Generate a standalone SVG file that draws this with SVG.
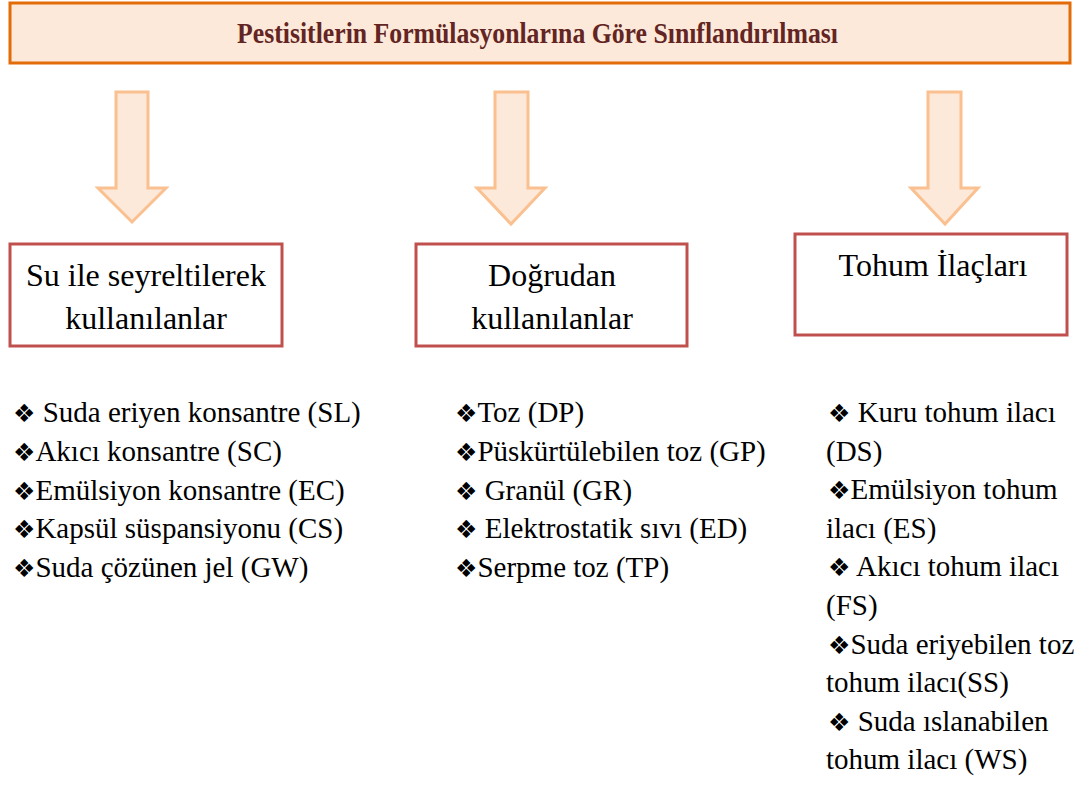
<svg xmlns="http://www.w3.org/2000/svg" width="1074" height="788" viewBox="0 0 1074 788">
<style>
.title{font-family:"Liberation Serif","Times New Roman",serif;font-weight:bold;font-size:29px;fill:#632523}
.arrow{fill:#FDE9D9;stroke:#FAC090;stroke-width:3;stroke-linejoin:miter}
.box{fill:#FFFFFF;stroke:#C0504D;stroke-width:3}
.head{font-family:"Liberation Serif","Times New Roman",serif;font-size:32px;fill:#000;text-anchor:middle}
.item{font-family:"Liberation Serif","DejaVu Sans","Times New Roman",serif;font-size:29px;fill:#000}
.bul{font-family:"DejaVu Sans",sans-serif;font-size:25px}
</style>
<rect width="1074" height="788" fill="#FFFFFF"/>
<g id="title">
<rect x="10" y="3" width="1060" height="60" fill="#FDE9D9" stroke="#E36C09" stroke-width="3"/>
<text class="title" x="237" y="43" textLength="601" lengthAdjust="spacingAndGlyphs">Pestisitlerin Formülasyonlarına Göre Sınıflandırılması</text>
</g>
<g id="connectors">
<path class="arrow" d="M116,92 H148 V188 H166 L132,222 L98,188 H116 Z"/>
<path class="arrow" d="M495,92 H528 V188 H545 L511,224 L477,188 H495 Z"/>
<path class="arrow" d="M928,92 H961 V188 H978 L945,224 L911,188 H928 Z"/>
</g>
<g id="node-su">
<rect class="box" x="10" y="244" width="272" height="102"/>
<text class="head" x="146" y="286">Su ile seyreltilerek</text>
<text class="head" x="146" y="329">kullanılanlar</text>
</g>
<g id="node-dogrudan">
<rect class="box" x="416" y="244" width="271" height="102"/>
<text class="head" x="552" y="286">Doğrudan</text>
<text class="head" x="552" y="329">kullanılanlar</text>
</g>
<g id="node-tohum">
<rect class="box" x="795" y="234" width="272" height="101"/>
<text class="head" x="933" y="276">Tohum İlaçları</text>
</g>
<g id="list-su">
<text class="item" x="13" y="422"><tspan class="bul">❖</tspan> Suda eriyen konsantre (SL)</text>
<text class="item" x="13" y="461"><tspan class="bul">❖</tspan>Akıcı konsantre (SC)</text>
<text class="item" x="13" y="500"><tspan class="bul">❖</tspan>Emülsiyon konsantre (EC)</text>
<text class="item" x="13" y="538"><tspan class="bul">❖</tspan>Kapsül süspansiyonu (CS)</text>
<text class="item" x="13" y="577"><tspan class="bul">❖</tspan>Suda çözünen jel (GW)</text>
</g>
<g id="list-dogrudan">
<text class="item" x="455" y="422"><tspan class="bul">❖</tspan>Toz (DP)</text>
<text class="item" x="455" y="461"><tspan class="bul">❖</tspan>Püskürtülebilen toz (GP)</text>
<text class="item" x="455" y="500"><tspan class="bul">❖</tspan> Granül (GR)</text>
<text class="item" x="455" y="538"><tspan class="bul">❖</tspan> Elektrostatik sıvı (ED)</text>
<text class="item" x="455" y="577"><tspan class="bul">❖</tspan>Serpme toz (TP)</text>
</g>
<g id="list-tohum">
<text class="item" x="828" y="422"><tspan class="bul">❖</tspan> Kuru tohum ilacı</text>
<text class="item" x="826" y="461">(DS)</text>
<text class="item" x="828" y="499"><tspan class="bul">❖</tspan>Emülsiyon tohum</text>
<text class="item" x="826" y="538">ilacı (ES)</text>
<text class="item" x="828" y="576"><tspan class="bul">❖</tspan> Akıcı tohum ilacı</text>
<text class="item" x="826" y="615">(FS)</text>
<text class="item" x="828" y="654"><tspan class="bul">❖</tspan>Suda eriyebilen toz</text>
<text class="item" x="826" y="692">tohum ilacı(SS)</text>
<text class="item" x="828" y="731"><tspan class="bul">❖</tspan> Suda ıslanabilen</text>
<text class="item" x="826" y="769">tohum ilacı (WS)</text>
</g>
</svg>
